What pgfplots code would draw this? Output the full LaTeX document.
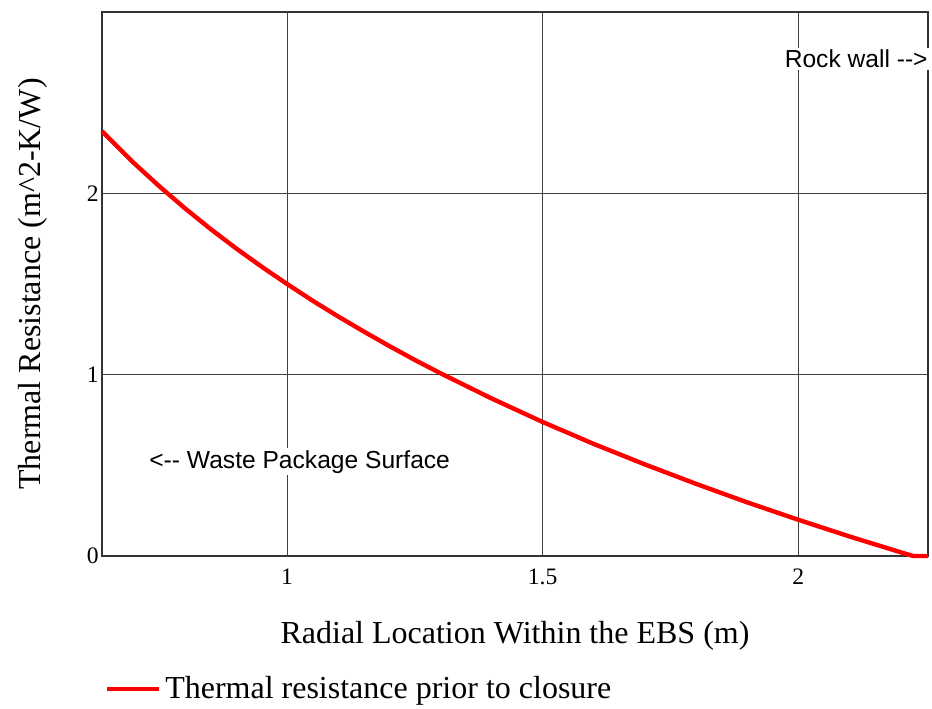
\documentclass[border=0pt]{standalone}
\usepackage{fontspec}
\setmainfont{Liberation Serif}
\setsansfont{Liberation Sans}
\usepackage{pgfplots}
\pgfplotsset{compat=1.18}

\begin{document}
\begin{tikzpicture}
  \begin{axis}[
      scale only axis,
      width=413pt, height=272pt,
      xmin=0.638, xmax=2.254,
      ymin=0, ymax=3,
      xtick={1,1.5,2}, ytick={0,1,2,3},
      yticklabels={0,1,2,},
      xticklabels={1,1.5,2},
      major tick length=0pt,
      grid=major,
      major grid style={black!75, line width=0.5pt},
      axis line style={black!80, line width=1pt},
      clip=false,
      /pgf/number format/assume math mode=true,
      tick label style={font=\fontsize{11.8}{14}\selectfont},
      xticklabel style={yshift=-3pt},
      yticklabel style={inner sep=1.5pt},
      xlabel={Radial Location Within the EBS (m)},
      ylabel={Thermal Resistance (m\textasciicircum 2-K/W)},
      label style={font=\fontsize{16}{19}\selectfont},
      xlabel style={at={(axis description cs:0.5,-0.147)}, anchor=center},
      ylabel style={at={(axis description cs:-0.0835,0.5)}, anchor=center},
      legend style={at={(axis description cs:0.003,-0.245)}, anchor=west,
        draw=none, fill=none, inner sep=0pt,
        font=\fontsize{16}{19}\selectfont},
      legend image code/.code={\draw[#1] (0pt,0pt) -- (26pt,0pt);},
    ]
    \addplot[red, line width=2.2pt, line join=round] coordinates {
      (0.638,2.342) (0.70,2.168) (0.75,2.039) (0.80,1.918) (0.85,1.804)
      (0.90,1.697) (0.95,1.596) (1.00,1.500) (1.05,1.408) (1.10,1.321)
      (1.15,1.238) (1.20,1.158) (1.25,1.081) (1.30,1.008) (1.40,0.869)
      (1.50,0.739) (1.60,0.618) (1.70,0.505) (1.80,0.398) (1.90,0.296)
      (2.00,0.200) (2.10,0.108) (2.20,0.021) (2.225,0) (2.254,0)
    };
    \addlegendentry{Thermal resistance prior to closure}
    \node[fill=white, inner sep=1pt, anchor=east, font=\sffamily\fontsize{12.3}{14}\selectfont]
      at (axis cs:2.258,2.74) {Rock wall {-}{-}>};
    \node[fill=white, inner sep=1pt, anchor=west, font=\sffamily\fontsize{12.3}{14}\selectfont]
      at (axis cs:0.726,0.52) {<{-}{-} Waste Package Surface};
    \coordinate (bl) at (rel axis cs:0,0);
    \coordinate (tr) at (rel axis cs:1,1);
  \end{axis}
  \pgfresetboundingbox
  \path[use as bounding box] ([shift={(-51pt,-76.5pt)}]bl) rectangle ([shift={(2pt,6pt)}]tr);
\end{tikzpicture}
\end{document}
